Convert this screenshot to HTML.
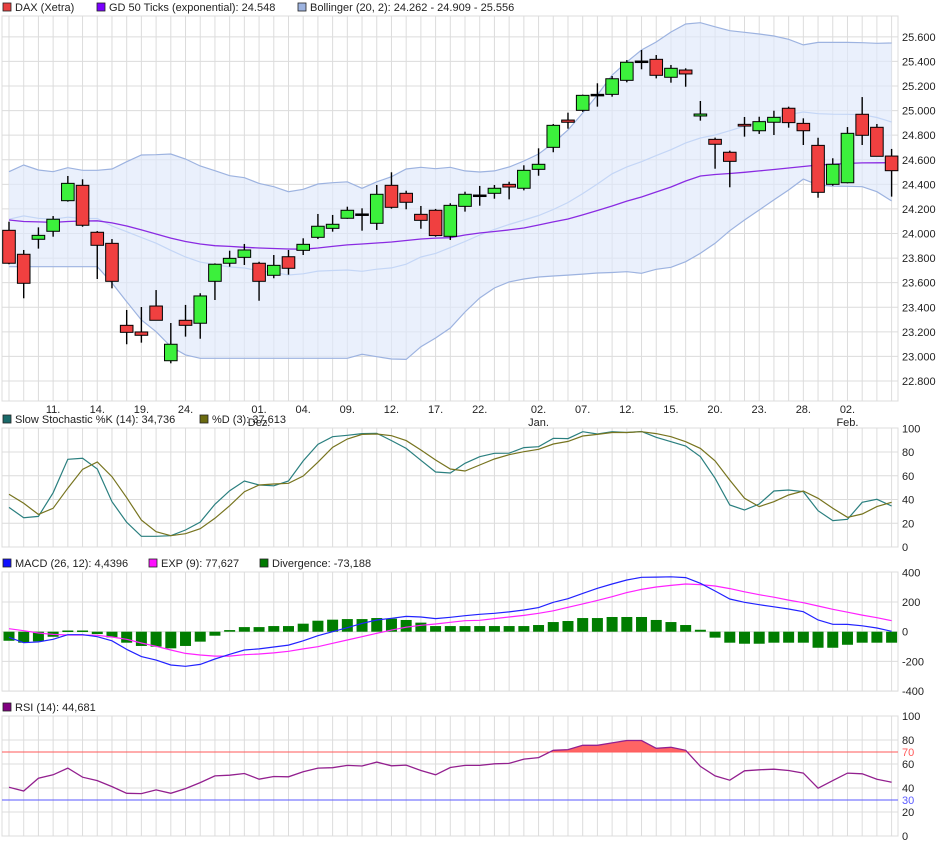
<!DOCTYPE html>
<html><head><meta charset="utf-8"><style>
body{margin:0;background:#fff;}
svg{display:block;font-family:"Liberation Sans",sans-serif;}
</style></head><body>
<svg id="c" width="940" height="845" xmlns="http://www.w3.org/2000/svg"></svg>
<script>
const openP=[24026,23831,23953,24018,24267,24392,24010,23920,23253,23199,23410,22965,23294,23270,23611,23758,23806,23758,23660,23811,23863,23969,24042,24124,24159,24083,24392,24327,24156,24189,23977,24221,24313,24327,24400,24368,24522,24701,24923,25002,25132,25132,25246,25403,25417,25271,25330,24956,24766,24661,24888,24836,24905,25019,24896,24717,24400,24413,24970,24864,24630];
const closeP=[23758,23595,23985,24116,24408,24067,23904,23611,23196,23172,23294,23099,23253,23492,23750,23798,23866,23611,23741,23717,23912,24059,24075,24189,24159,24319,24213,24254,24107,23983,24229,24319,24313,24368,24378,24514,24563,24880,24905,25124,25132,25259,25393,25403,25287,25344,25298,24972,24726,24587,24874,24910,24945,24902,24836,24335,24563,24815,24799,24628,24511];
const highP=[24096,23866,24050,24142,24468,24441,24020,23955,23378,23402,23540,23272,23419,23514,23757,23860,23915,23770,23825,23866,23961,24159,24151,24218,24205,24395,24498,24348,24224,24200,24246,24340,24387,24395,24421,24555,24693,24891,24983,25130,25222,25281,25411,25493,25452,25371,25344,25078,24780,24674,24948,24950,24999,25032,24937,24779,24612,24866,25110,24891,24688];
const lowP=[23750,23473,23877,23974,24259,24055,23630,23554,23099,23112,23294,22944,23161,23144,23459,23730,23744,23453,23636,23665,23825,23955,24015,24120,24023,24029,24202,24197,24039,23974,23947,24178,24226,24283,24278,24351,24470,24661,24853,24990,25032,25113,25230,25336,25262,25227,25194,24918,24527,24376,24788,24810,24801,24861,24720,24291,24389,24408,24720,24628,24300];
const bbUpper=[24503,24557,24517,24503,24535,24514,24514,24525,24584,24639,24641,24647,24606,24549,24511,24470,24454,24408,24381,24340,24360,24403,24413,24421,24368,24421,24462,24525,24539,24527,24539,24509,24500,24509,24541,24590,24647,24736,24842,24980,25127,25289,25395,25493,25558,25639,25704,25715,25682,25650,25637,25623,25607,25580,25534,25555,25555,25555,25552,25547,25550];
const bbLower=[23730,23730,23730,23730,23730,23730,23730,23597,23445,23296,23201,23079,23012,22985,22985,22985,22985,22985,22985,22985,22985,22985,22985,22985,23017,22998,22979,22976,23079,23150,23231,23361,23475,23557,23606,23630,23646,23654,23662,23670,23679,23683,23689,23676,23709,23725,23771,23839,23920,24023,24110,24191,24273,24354,24443,24395,24386,24384,24381,24340,24265];
const ema50=[24110,24098,24094,24090,24098,24102,24103,24086,24061,24029,23996,23963,23935,23915,23901,23895,23888,23882,23878,23874,23872,23882,23895,23907,23915,23923,23931,23943,23955,23963,23966,23988,24004,24016,24029,24045,24069,24094,24118,24151,24187,24224,24264,24297,24338,24378,24427,24468,24480,24488,24498,24509,24521,24533,24545,24557,24563,24570,24574,24575,24576];
const stochK=[33.4,24.7,25.8,45.7,73.9,74.7,65.7,38.2,20.8,9,9,9.5,14.3,21,36,47.4,55.6,52.2,51.6,55.6,72.5,86.5,92.9,94.1,95.5,95.8,89.6,83.1,73,63.2,62.3,70.5,76.1,78.9,79,83.7,84.5,91.6,91.3,97.1,95.2,97.1,96.5,97.3,92.4,88.7,85.1,76.1,57.9,35.4,31.2,36.2,47.2,48,46.6,30.6,22.2,23.3,37.7,40.2,34.5];
const stochD=[44.4,36.8,27.5,32.6,49.5,65.5,71.6,59.2,41.5,22.7,12.9,9.5,11.2,15.4,24.2,34.8,46.6,52.2,53.1,53.7,59.8,71.4,84,91,94.9,95.2,93.8,89.6,81.7,73.3,65.7,64,69.1,74.1,77.8,80.3,82.3,86.8,89,93.5,94.9,96.5,96.5,97.1,95.5,92.9,88.7,83.1,72.5,56.4,41,34,38.2,43.8,47.2,41,32.6,25,27.8,34,37.7];
const macd=[-38,-74,-69,-51,-20,-20,-34,-61,-119,-168,-191,-224,-233,-220,-184,-152,-123,-116,-103,-90,-61,-27,0,27,56,79,90,103,99,88,97,108,117,124,133,146,162,198,222,258,292,321,348,366,368,370,364,326,274,220,198,182,168,153,135,79,50,49,40,25,3];
const macdExp=[20,7,-9,-18,-22,-22,-24,-36,-51,-76,-98,-123,-146,-157,-164,-164,-155,-150,-143,-132,-116,-101,-78,-56,-34,-11,11,30,43,52,63,74,77,88,99,110,124,141,164,187,211,236,263,285,301,312,321,317,308,290,269,249,232,213,195,173,151,131,112,94,74];
const macdDiv=[-61,-74,-65,-34,8,8,-16,-38,-74,-96,-101,-112,-96,-67,-27,11,31,31,38,38,54,74,81,85,85,92,88,79,61,38,38,38,38,38,38,38,45,65,72,92,92,99,99,99,79,65,45,13,-40,-74,-81,-81,-74,-74,-74,-108,-108,-88,-74,-74,-74];
const rsi=[40.6,37.5,48.2,51,56.6,49,46.2,41.2,35.6,35.3,38.4,35.6,39.5,44.5,50.1,50.7,52.1,47.3,49.6,49.3,53.5,56.6,56.9,58.8,58.3,61.6,58.5,59.1,54.6,51,57.1,58.8,58.8,60.2,60.5,64.1,65.3,71.4,72,75.6,75.6,77.6,79.6,79.6,73.1,73.9,71.4,58,50.1,46.5,54.3,55.2,55.7,54.6,52.4,39.8,46.2,52.4,51.8,47.3,44.8];
const priceTicks=[22800,23000,23200,23400,23600,23800,24000,24200,24400,24600,24800,25000,25200,25400,25600];
const dayLabels=["11.","14.","19.","24.","01.","04.","09.","12.","17.","22.","02.","07.","12.","15.","20.","23.","28.","02."];
const dayIdx=[3,6,9,12,17,20,23,26,29,32,36,39,42,45,48,51,54,57];
const monthLabels=["Dez.","Jan.","Feb."];
const monthIdx=[17,36,57];

const NS="http://www.w3.org/2000/svg";
const svg=document.getElementById('c');
const L=2,R=898;
function xOf(i){return 9+i*14.71;}
function yP(p){return 86+(25200-p)*0.12292;}
function yS(v){return 547-v*1.187;}
function yM(v){return 631.7-v*0.1485;}
function yR(v){return 836-v*1.2;}
function el(tag,attrs,parent){const e=document.createElementNS(NS,tag);for(const k in attrs)e.setAttribute(k,attrs[k]);(parent||svg).appendChild(e);return e;}
function txt(x,y,s,attrs,parent){const t=el('text',Object.assign({x:x,y:y,'font-size':11,fill:'#222'},attrs||{}),parent);t.textContent=s;return t;}
function fmtP(p){return String(Math.floor(p/1000))+"."+String(p%1000).padStart(3,'0');}

// grids
function vgrid(top,bot){const g=el('g',{});
 for(let i=0;i<openP.length;i++)el('line',{x1:xOf(i),x2:xOf(i),y1:top,y2:bot,stroke:'#dcdcdc','stroke-width':1},g);
 el('rect',{x:L,y:top,width:R-L,height:bot-top,fill:'none',stroke:'#dcdcdc'},g);}
function hline(y,col){el('line',{x1:L,x2:R,y1:y,y2:y,stroke:col||'#dcdcdc','stroke-width':1});}
vgrid(16,401);vgrid(428,547);vgrid(572,691);vgrid(716,836);
priceTicks.forEach(p=>hline(yP(p)));
[0,20,40,60,80].forEach(v=>hline(yS(v)));
[-400,-200,0,200].forEach(v=>hline(yM(v)));
[0,20,40,60,80].forEach(v=>hline(yR(v)));

function legend(x,y,col,label,name){const g=el('g',{});
 el('rect',{x:x,y:y-8,width:8,height:8,fill:col,stroke:'#222','stroke-width':0.8},g);txt(x+12,y,label,{},g);}
legend(3,11,'#e84040','DAX (Xetra)','legend-dax');
legend(97,11,'#7a00ff','GD 50 Ticks (exponential): 24.548','legend-ema50');
legend(298,11,'#9db3e0','Bollinger (20, 2): 24.262 - 24.909 - 25.556','legend-bollinger');

// bollinger
function pathOf(arr,fy){return arr.map((v,i)=>(i?'L':'M')+xOf(i).toFixed(1)+','+fy(v).toFixed(1)).join('');}
let area=pathOf(bbUpper,yP);
for(let i=bbLower.length-1;i>=0;i--)area+='L'+xOf(i).toFixed(1)+','+yP(bbLower[i]).toFixed(1);
const bbA=el('path',{d:area+'Z',fill:'#dfe8fa','fill-opacity':0.65});


const bbU=el('path',{d:pathOf(bbUpper,yP),fill:'none',stroke:'#9db3e0','stroke-width':1.2});


const bbL=el('path',{d:pathOf(bbLower,yP),fill:'none',stroke:'#9db3e0','stroke-width':1.2});


const mid=bbUpper.map((u,i)=>(u+bbLower[i])/2);
const bbM=el('path',{d:pathOf(mid,yP),fill:'none',stroke:'#c4d6f6','stroke-width':1.2});


const emaL=el('path',{d:pathOf(ema50,yP),fill:'none',stroke:'#8a2be2','stroke-width':1.3});



// candles
for(let i=0;i<openP.length;i++){
 const x=xOf(i),o=openP[i],c=closeP[i];
 const g=el('g',{});
 
 
 el('line',{x1:x,x2:x,y1:yP(highP[i]),y2:yP(lowP[i]),stroke:'#000','stroke-width':1.4},g);
 const top=yP(Math.max(o,c)),bot=yP(Math.min(o,c));
 const h=Math.max(bot-top,1.5);
 const col=c>o?'#3cf03c':(c<o?'#f04040':'#000');
 el('rect',{x:x-6.3,y:top,width:12.6,height:h,fill:col,stroke:'#000','stroke-width':1},g);
}
priceTicks.forEach(p=>{const t=txt(902,yP(p)+4,fmtP(p));});
dayLabels.forEach((s,k)=>{const t=txt(xOf(dayIdx[k]),413,s,{'text-anchor':'middle'});});
monthLabels.forEach((s,k)=>{const t=txt(xOf(monthIdx[k]),426,s,{'text-anchor':'middle'});});

// stochastic
legend(3,423,'#1a6a6a','Slow Stochastic %K (14): 34,736','legend-stoch-k');
legend(200,423,'#6b6b10','%D (3): 37,613','legend-stoch-d');
const sk=el('path',{d:pathOf(stochK,yS),fill:'none',stroke:'#2a7f7f','stroke-width':1.2});


const sd=el('path',{d:pathOf(stochD,yS),fill:'none',stroke:'#77741f','stroke-width':1.2});


[0,20,40,60,80,100].forEach(v=>{const t=txt(902,yS(v)+4,String(v));});

// macd
legend(3,567,'#1010ff','MACD (26, 12): 4,4396','legend-macd');
legend(149,567,'#ff10ff','EXP (9): 77,627','legend-macd-exp');
legend(260,567,'#007a00','Divergence: -73,188','legend-divergence');
macdDiv.forEach((v,i)=>{const y0=yM(0),y1=yM(v);
 const b=el('rect',{x:xOf(i)-5.5,y:Math.min(y0,y1),width:11,height:Math.max(Math.abs(y1-y0),1.5),fill:'#007d00'});
 
 });
const me=el('path',{d:pathOf(macdExp,yM),fill:'none',stroke:'#ff22ff','stroke-width':1.2});


const ml=el('path',{d:pathOf(macd,yM),fill:'none',stroke:'#2222ff','stroke-width':1.2});


[-400,-200,0,200,400].forEach(v=>{const t=txt(902,yM(v)+4,String(v));});

// rsi
legend(3,711,'#800080','RSI (14): 44,681','legend-rsi');
const cp=el('clipPath',{id:'above70'});el('rect',{x:L,y:716,width:R-L,height:yR(70)-716},cp);
let ra=pathOf(rsi,yR)+'L'+xOf(rsi.length-1)+','+yR(70)+'L'+xOf(0)+','+yR(70)+'Z';
const rf=el('path',{d:ra,fill:'#ff6464','clip-path':'url(#above70)'});


hline(yR(70),'#ff5a5a');hline(yR(30),'#5a5aff');
const rl=el('path',{d:pathOf(rsi,yR),fill:'none',stroke:'#93208f','stroke-width':1.3});


[0,20,40,60,80,100].forEach(v=>{const t=txt(902,yR(v)+4,String(v));});
const t70=txt(902,yR(70)+4,'70',{fill:'#ff5a5a'});


const t30=txt(902,yR(30)+4,'30',{fill:'#5a5aff'});


</script>
</body></html>
